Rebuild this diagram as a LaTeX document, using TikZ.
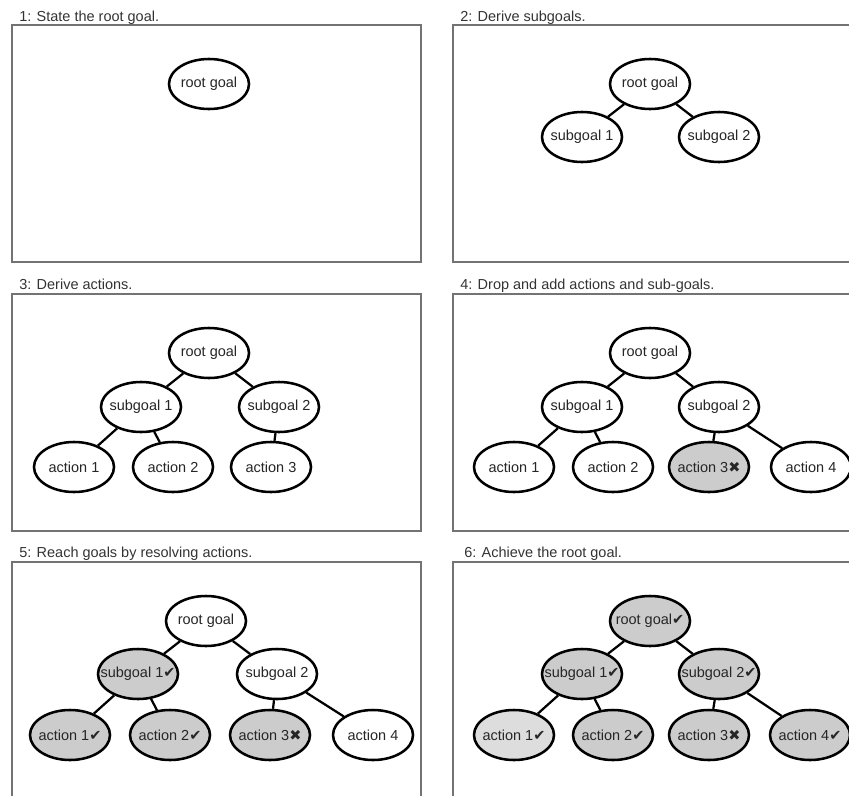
\documentclass[tikz,border=0pt]{standalone}
\usepackage{fontspec}
\setmainfont{Liberation Sans}
\newfontfamily\symfont[Scale=1.0]{DejaVu Sans}
\usetikzlibrary{shapes.geometric}
\newcommand\chk{{\symfont ✔}}
\newcommand\crs{{\symfont ✖}}
\newcommand\gl[1]{\makebox[0pt]{#1}}
\begin{document}
\begin{tikzpicture}[
  x=0.025cm, y=-0.025cm,
  goal/.style={ellipse, draw, line width=1.8pt, fill=white, minimum width=2cm,
    minimum height=1.25cm, inner sep=0pt, font=\fontsize{10.3}{12}\selectfont, text=black!85},
  done/.style={goal, fill=gray!40},
  half/.style={goal, fill=gray!27},
  link/.style={line width=1.6pt},
  panel/.style={draw=black!55, line width=0.9pt},
  caption/.style={anchor=base west, inner sep=0pt, font=\fontsize{10.3}{12}\selectfont, text=black!80}
]
  \useasboundingbox (0,0) rectangle (849,796);
  \clip (0,0) rectangle (849,796);

  % === PANEL 1: root goal ===
  \node[caption] (t1) at (19,21) {1: State the root goal.};
  \draw[panel] (12,25) rectangle (421,262);
  \node[goal] (a-root) at (209,84) {\gl{root goal}};

  % === PANEL 2: subgoals ===
  \node[caption] (t2) at (460,21) {2: Derive subgoals.};
  \draw[panel] (453,25) rectangle (870,262);
  \node[goal] (b-root) at (650,84) {\gl{root goal}};
  \node[goal] (b-s1) at (582,137) {\gl{subgoal 1}};
  \node[goal] (b-s2) at (719,137) {\gl{subgoal 2}};
  \draw[link] (b-root) -- (b-s1);
  \draw[link] (b-root) -- (b-s2);

  % === PANEL 3: actions ===
  \node[caption] (t3) at (19,289) {3: Derive actions.};
  \draw[panel] (12,294) rectangle (421,531);
  \node[goal] (c-root) at (209,353) {\gl{root goal}};
  \node[goal] (c-s1) at (141,407) {\gl{subgoal 1}};
  \node[goal] (c-s2) at (279,407) {\gl{subgoal 2}};
  \node[goal] (c-a1) at (74,467) {\gl{action 1}};
  \node[goal] (c-a2) at (173,467) {\gl{action 2}};
  \node[goal] (c-a3) at (271,467) {\gl{action 3}};
  \draw[link] (c-root) -- (c-s1);
  \draw[link] (c-root) -- (c-s2);
  \draw[link] (c-s1) -- (c-a1);
  \draw[link] (c-s1) -- (c-a2);
  \draw[link] (c-s2) -- (c-a3);

  % === PANEL 4: drop and add ===
  \node[caption] (t4) at (460,289) {4: Drop and add actions and sub-goals.};
  \draw[panel] (453,294) rectangle (870,531);
  \node[goal] (d-root) at (650,353) {\gl{root goal}};
  \node[goal] (d-s1) at (582,407) {\gl{subgoal 1}};
  \node[goal] (d-s2) at (719,407) {\gl{subgoal 2}};
  \node[goal] (d-a1) at (514,467) {\gl{action 1}};
  \node[goal] (d-a2) at (613,467) {\gl{action 2}};
  \node[done] (d-a3) at (709,467) {\gl{action 3\crs}};
  \node[goal] (d-a4) at (811,467) {\gl{action 4}};
  \draw[link] (d-root) -- (d-s1);
  \draw[link] (d-root) -- (d-s2);
  \draw[link] (d-s1) -- (d-a1);
  \draw[link] (d-s1) -- (d-a2);
  \draw[link] (d-s2) -- (d-a3);
  \draw[link] (d-s2) -- (d-a4);

  % === PANEL 5: resolve actions ===
  \node[caption] (t5) at (19,557) {5: Reach goals by resolving actions.};
  \draw[panel] (12,562) rectangle (421,820);
  \node[goal] (e-root) at (206,621) {\gl{root goal}};
  \node[done] (e-s1) at (138,674) {\gl{subgoal 1\chk}};
  \node[goal] (e-s2) at (277,674) {\gl{subgoal 2}};
  \node[done] (e-a1) at (70,735) {\gl{action 1\chk}};
  \node[done] (e-a2) at (170,735) {\gl{action 2\chk}};
  \node[done] (e-a3) at (270,735) {\gl{action 3\crs}};
  \node[goal] (e-a4) at (373,735) {\gl{action 4}};
  \draw[link] (e-root) -- (e-s1);
  \draw[link] (e-root) -- (e-s2);
  \draw[link] (e-s1) -- (e-a1);
  \draw[link] (e-s1) -- (e-a2);
  \draw[link] (e-s2) -- (e-a3);
  \draw[link] (e-s2) -- (e-a4);

  % === PANEL 6: root goal achieved ===
  \node[caption] (t6) at (464,557) {6: Achieve the root goal.};
  \draw[panel] (453,562) rectangle (870,820);
  \node[done] (f-root) at (650,621) {\gl{root goal\chk}};
  \node[done] (f-s1) at (582,674) {\gl{subgoal 1\chk}};
  \node[done] (f-s2) at (719,674) {\gl{subgoal 2\chk}};
  \node[half] (f-a1) at (514,735) {\gl{action 1\chk}};
  \node[done] (f-a2) at (613,735) {\gl{action 2\chk}};
  \node[done] (f-a3) at (709,735) {\gl{action 3\crs}};
  \node[done] (f-a4) at (810,735) {\gl{action 4\chk}};
  \draw[link] (f-root) -- (f-s1);
  \draw[link] (f-root) -- (f-s2);
  \draw[link] (f-s1) -- (f-a1);
  \draw[link] (f-s1) -- (f-a2);
  \draw[link] (f-s2) -- (f-a3);
  \draw[link] (f-s2) -- (f-a4);
\end{tikzpicture}
\end{document}
